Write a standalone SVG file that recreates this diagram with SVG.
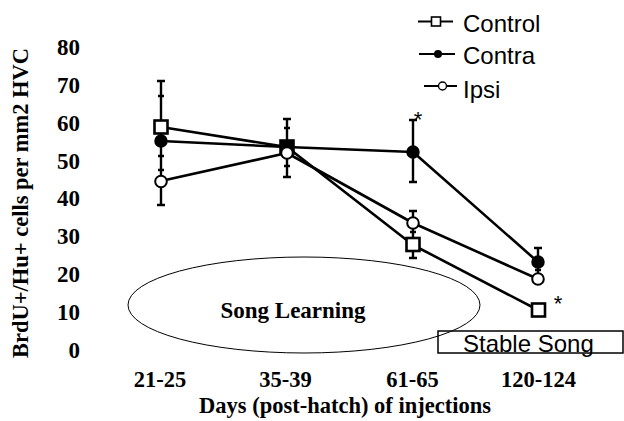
<svg xmlns="http://www.w3.org/2000/svg" width="624" height="421" viewBox="0 0 624 421">
  <style>
    .axis { font-family: "Liberation Serif", "Times New Roman", serif; font-weight: bold; font-size: 23px; fill: #000; }
    .ytick { text-anchor: end; }
    .xtick { text-anchor: middle; font-size: 22.5px; }
    .sans { font-family: "Liberation Sans", Arial, sans-serif; font-size: 24px; fill: #000; }
    .star { font-family: "Liberation Sans", Arial, sans-serif; font-size: 22px; fill: #000; text-anchor: middle; }
    .series { fill: none; stroke: #000; stroke-width: 2.6; stroke-linejoin: round; }
    .err { fill: none; stroke: #000; stroke-width: 2.4; }
    .sq { fill: #fff; stroke: #000; stroke-width: 2.6; }
    .dot { fill: #000; stroke: #000; stroke-width: 1.5; }
    .open { fill: #fff; stroke: #000; stroke-width: 2; }
    .leg { stroke: #000; stroke-width: 2; fill: none; }
  </style>

  <rect width="624" height="421" fill="#fff"/>

  <!-- y axis title -->
  <text class="axis" transform="translate(28,203) rotate(-90)" text-anchor="middle" style="font-size:22.5px">BrdU+/Hu+ cells per mm2 HVC</text>

  <!-- y tick labels -->
  <g id="y-labels" class="axis ytick">
    <text x="80" y="54.8">80</text>
    <text x="80" y="92.7">70</text>
    <text x="80" y="130.6">60</text>
    <text x="80" y="168.5">50</text>
    <text x="80" y="206.4">40</text>
    <text x="80" y="244.3">30</text>
    <text x="80" y="282.2">20</text>
    <text x="80" y="320.1">10</text>
    <text x="80" y="358">0</text>
  </g>

  <!-- x tick labels -->
  <g id="x-labels" class="axis xtick">
    <text x="160" y="387">21-25</text>
    <text x="285.5" y="387">35-39</text>
    <text x="412.5" y="387">61-65</text>
    <text x="538.5" y="387">120-124</text>
  </g>
  <text class="axis" x="345" y="412.5" text-anchor="middle" style="font-size:22.5px">Days (post-hatch) of injections</text>

  <!-- developmental phases -->
  <g id="song-learning">
    <ellipse cx="304" cy="305" rx="176" ry="48" fill="none" stroke="#000" stroke-width="1"/>
    <text class="axis" x="293" y="318" text-anchor="middle">Song Learning</text>
  </g>
  <g id="stable-song">
    <rect x="438" y="331" width="185" height="22" fill="none" stroke="#000" stroke-width="1.5"/>
    <text class="sans" x="463" y="352">Stable Song</text>
  </g>

  <!-- error bars -->
  <g id="error-bars" class="err">
    <path d="M161,81 V205 M157,81 H165 M158,96 H164 M158,156 H164 M158,170 H164 M157,205 H165"/>
    <path d="M287,119 V177 M283,119 H291 M284,128 H290 M284,166 H290 M283,177 H291"/>
    <path d="M413,120 V182 M409,120 H417 M409,182 H417"/>
    <path d="M413,211 V258 M409,211 H417 M410,232 H416 M409,258 H417"/>
    <path d="M538,248 V279 M534,248 H542 M535,270 H541"/>
  </g>

  <!-- series connectors -->
  <g id="connectors" class="series">
    <polyline points="161,127 287,147 413,245 538,310"/>
    <polyline points="161,141 287,147 413,152 538,262"/>
    <polyline points="161,181 287,153 413,223 538,279"/>
  </g>

  <!-- Control: open squares -->
  <g id="control">
    <rect class="sq" x="154.5" y="120.5" width="13" height="13"/>
    <rect class="sq" x="280.5" y="140.5" width="13" height="13"/>
    <rect class="sq" x="406.5" y="238" width="13" height="13"/>
    <rect class="sq" x="532" y="303.5" width="13" height="13"/>
  </g>

  <!-- Contra: filled circles -->
  <g id="contra">
    <circle class="dot" cx="161" cy="141" r="6"/>
    <rect x="281" y="141" width="12" height="11" fill="#000"/>
    <circle class="dot" cx="413" cy="152" r="6"/>
    <circle class="dot" cx="538" cy="262" r="6"/>
  </g>

  <!-- Ipsi: open circles -->
  <g id="ipsi">
    <circle class="open" cx="161" cy="181.5" r="5.8"/>
    <circle class="open" cx="287" cy="153" r="5.8"/>
    <circle class="open" cx="413" cy="223" r="5.8"/>
    <circle class="open" cx="538" cy="279" r="5.8"/>
  </g>

  <!-- significance marks -->
  <text class="star" x="418" y="126.5">*</text>
  <text class="star" x="558" y="310.5">*</text>

  <!-- legend -->
  <g id="legend">
    <g id="legend-control">
      <line class="leg" x1="418" y1="21.5" x2="453" y2="21.5"/>
      <rect x="431.5" y="17" width="9" height="9" fill="#fff" stroke="#000" stroke-width="1.6"/>
      <text class="sans" x="463" y="31.5">Control</text>
    </g>
    <g id="legend-contra">
      <line class="leg" x1="419" y1="54" x2="455" y2="54"/>
      <circle cx="438" cy="54" r="4" fill="#000"/>
      <text class="sans" x="463" y="64">Contra</text>
    </g>
    <g id="legend-ipsi">
      <line class="leg" x1="424" y1="86" x2="457" y2="86"/>
      <circle cx="442.5" cy="86" r="4" fill="#fff" stroke="#000" stroke-width="1.4"/>
      <text class="sans" x="463" y="98">Ipsi</text>
    </g>
  </g>
</svg>
